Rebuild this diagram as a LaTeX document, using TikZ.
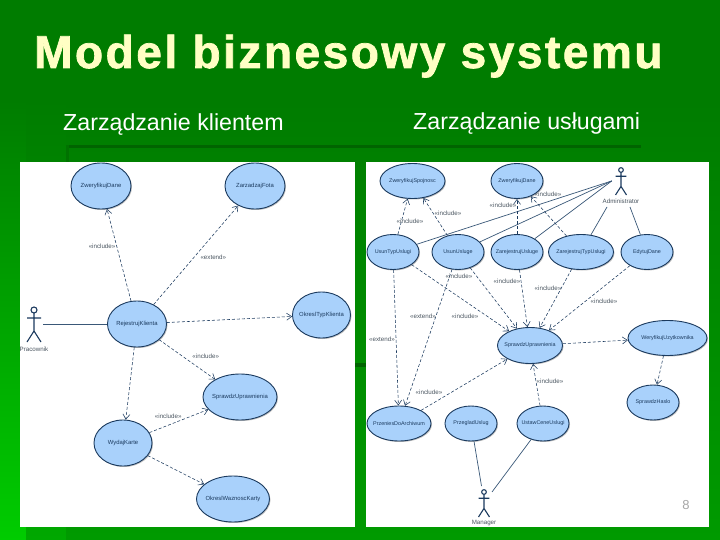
\documentclass[tikz,border=0pt]{standalone}
\usepackage{fontspec}
\setmainfont{Liberation Sans}
\newfontfamily\titlefont[LetterSpace=5.5,BoldFeatures={FakeBold=1.6}]{Liberation Sans}
\usetikzlibrary{arrows.meta,positioning,calc,shapes.geometric,shadows}
\definecolor{ink}{HTML}{1B3A5E}
\definecolor{ucfill}{HTML}{A9D1FB}
\definecolor{topgreen}{HTML}{007C00}
\definecolor{lowgreen}{HTML}{009A00}
\definecolor{brightgreen}{HTML}{00CC00}
\definecolor{bandgreen}{HTML}{00A800}
\definecolor{shadegreen}{HTML}{006400}
\definecolor{titlecol}{HTML}{FFFFC4}
\definecolor{labcol}{HTML}{4A5560}
\definecolor{solidcol}{HTML}{3A5878}
\newcommand{\ucfont}{\fontsize{5.9}{7}\selectfont}
\tikzset{ucase/.style={ellipse,draw=ink,fill=ucfill,line width=.9pt,inner sep=0pt,
    drop shadow={shadow xshift=1pt,shadow yshift=-1pt,opacity=.25,fill=black}},
  uctext/.style={font=\ucfont,text=ink,inner sep=0pt},
  lab/.style={font=\fontsize{6.2}{7}\selectfont,text=labcol,inner sep=0pt},
  dep/.style={densely dashed,draw=ink,line width=.55pt,-{Straight Barb[length=5pt,width=7pt]}},
  assoc/.style={draw=solidcol,line width=.7pt},
  subhead/.style={font=\fontsize{23.2}{26}\selectfont,text=white,anchor=base west,inner sep=0pt},
  panel/.style={fill=white,draw=none}}
% name, x, y, half width, half height, text
\newcommand{\usecase}[6]{%
\node[ucase,minimum width=#4*2pt,minimum height=#5*2pt] (#1) at (#2,#3) {};
\node[uctext] (#1-t) at (#2,#3) {#6};}
% name, x, y of head, scale, text, y of text
\newcommand{\actorman}[6]{%
\node[inner sep=0pt,minimum width=18pt,minimum height=30pt] (#1) at (#2,#3+14*#4) {};
\begin{scope}[shift={(#2,#3)},draw=ink,line width=1.1pt]
\draw (0,0) circle (3pt*#4);
\draw (0,3*#4)--(0,21*#4) (-7*#4,8*#4)--(7*#4,8*#4) (-7*#4,32*#4)--(0,21*#4)--(7*#4,32*#4);
\end{scope}
\node[lab] (#1-t) at (#2,#6) {#5};}

\begin{document}
\begin{tikzpicture}[x=1pt,y=-1pt]
\useasboundingbox (0,0) rectangle (720,540);
% background
\fill[topgreen] (0,0) rectangle (720,540);
\shade[top color=topgreen,bottom color=brightgreen] (0,100) rectangle (26,540);
\shade[top color=topgreen,bottom color=bandgreen] (26,100) rectangle (66,540);
\shade[top color=topgreen,bottom color=lowgreen] (66,100) rectangle (720,540);
\fill[shadegreen] (66,145) rectangle (641,148);
\fill[shadegreen!40!topgreen] (66,145) rectangle (69,162);
\fill[shadegreen] (355,363) rectangle (366,367);
% title
\node[font=\titlefont\bfseries\fontsize{46}{50}\selectfont,text=titlecol,anchor=base west,inner sep=0pt] (title) at (34,68) {Model biznesowy systemu};
\node[subhead] (subleft) at (63,131) {Zarządzanie klientem};
\node[subhead] (subright) at (413,130) {Zarządzanie usługami};
% panels
\fill[panel] (20,162) rectangle (355,527);
\fill[panel] (366,162) rectangle (709,527);
\node[font=\fontsize{13}{15}\selectfont,text=black!35,inner sep=0pt] (pagenum) at (686,505) {8};
% left diagram
\usecase{zwerdane}{101}{186}{30}{23}{ZweryfikujDane}
\usecase{zarzfota}{255}{186}{30}{23}{ZarzadzajFota}
\usecase{okrtyp}{321.5}{315}{29}{23}{OkreslTypKlienta}
\usecase{rejkl}{137}{324}{29.5}{23}{RejestrujKlienta}
\usecase{sprupr}{240}{397}{37}{23}{SprawdzUprawnienia}
\usecase{wydaj}{123}{443}{29}{23}{WydajKarte}
\usecase{okrwazn}{233}{499}{36.5}{23}{OkreslWaznoscKarty}
\actorman{prac}{34}{310}{1}{Pracownik}{349}
\draw[assoc] (prac) -- (rejkl);
\draw[dep] (rejkl) -- (zwerdane) node[lab,pos=.6,left=1pt] {«include»};
\draw[dep] (rejkl) -- (zarzfota) node[lab,pos=.48,right=6pt] {«extend»};
\draw[dep] (rejkl) -- (okrtyp);
\draw[dep] (rejkl) -- (sprupr) node[lab,pos=.5,above right=1pt and 5pt] {«include»};
\draw[dep] (rejkl) -- (wydaj);
\draw[dep] (wydaj) -- (sprupr) node[lab,pos=.55,above left=1pt and 0pt] {«include»};
\draw[dep] (wydaj) -- (okrwazn);
% right diagram
\renewcommand{\ucfont}{\fontsize{5.4}{7}\selectfont}
\usecase{zwerspoj}{412.5}{181}{32.5}{17.5}{ZweryfikujSpojnosc}
\usecase{zwerdaner}{517}{181}{26}{17.5}{ZweryfikujDane}
\usecase{usuntyp}{393}{252}{26}{17.5}{UsunTypUslugi}
\usecase{usunusl}{458}{252}{26}{17.5}{UsunUsluge}
\usecase{rejusl}{517}{252}{26}{17.5}{ZarejestrujUsluge}
\usecase{rejtyp}{581}{252}{32.5}{17.5}{ZarejestrujTypUslugi}
\usecase{edytuj}{647}{252}{26}{17.5}{EdytujDane}
\usecase{spruprr}{530}{345.5}{32.5}{18}{SprawdzUprawnienia}
\usecase{weryf}{667.5}{338}{39.5}{17.5}{WeryfikujUzytkownika}
\usecase{sprhaslo}{653}{402.5}{26}{17.5}{SprawdzHaslo}
\usecase{przen}{399}{423.5}{32}{17.5}{PrzeniesDoArchiwum}
\usecase{przegl}{471}{423.5}{26}{17.5}{PrzegladUslug}
\usecase{ustaw}{543}{423.5}{26}{17.5}{UstawCeneUslugi}
\actorman{admin}{621}{170}{.78}{Administrator}{201}
\actorman{manag}{484}{492}{.78}{Manager}{523}
\coordinate (adminl) at (607,207);
\coordinate (adminr) at (630,207);
\coordinate (managl) at (481.5,486);
\coordinate (managr) at (492,492);
\draw[assoc] (admin.west) -- (usuntyp);
\draw[assoc] (admin.west) -- (usunusl);
\draw[assoc] (admin.west) -- (rejusl);
\draw[assoc] (adminl) -- (rejtyp);
\draw[assoc] (adminr) -- (edytuj);
\draw[assoc] (managl) -- (przegl);
\draw[assoc] (managr) -- (ustaw);
\draw[dep] (usuntyp) -- (zwerspoj);
\draw[dep] (usunusl) -- (zwerspoj);
\draw[dep] (rejusl) -- (zwerdaner);
\draw[dep] (rejtyp) -- (zwerdaner);
\draw[dep] (usuntyp) -- (spruprr);
\draw[dep] (usunusl) -- (spruprr);
\draw[dep] (rejusl) -- (spruprr);
\draw[dep] (rejtyp) -- (spruprr);
\draw[dep] (edytuj) -- (spruprr);
\draw[dep] (usuntyp) -- (przen);
\draw[dep] (usunusl) -- (przen);
\draw[dep] (przen) -- (spruprr);
\draw[dep] (ustaw) -- (spruprr);
\draw[dep] (spruprr) -- (weryf);
\draw[dep] (weryf) -- (sprhaslo);
% labels on the right
\node[lab] (l1) at (410,221) {«include»};
\node[lab] (l2) at (448,213) {«include»};
\node[lab] (l3) at (503,205) {«include»};
\node[lab] (l4) at (548,194) {«include»};
\node[lab] (l5) at (465,316) {«include»};
\node[lab] (l6) at (459,276) {«include»};
\node[lab] (l7) at (423,316) {«extend»};
\node[lab] (l8) at (382,339) {«extend»};
\node[lab] (l9) at (507,281) {«include»};
\node[lab] (l10) at (548,288) {«include»};
\node[lab] (l11) at (604,301) {«include»};
\node[lab] (l12) at (429,392) {«include»};
\node[lab] (l13) at (550,381) {«include»};
\end{tikzpicture}
\end{document}
